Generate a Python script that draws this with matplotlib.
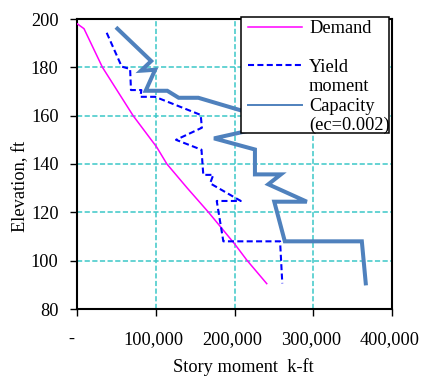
import matplotlib
matplotlib.use("Agg")
import matplotlib.pyplot as plt
import matplotlib.transforms as mtransforms
from matplotlib.lines import Line2D
from matplotlib.patches import Rectangle

# Story moment (k-ft) versus elevation (ft)
demand_moment = [0, 8500, 32000, 71000, 101000, 114000, 140000, 167000, 200000, 215500, 241000]
demand_elev = [198, 196, 180, 160, 147, 140, 130, 120, 107, 100.3, 90.5]

yield_moment = [37400, 56500, 67200, 68300, 81500, 80300, 99000, 157000, 158500, 125600,
                158000, 160300, 173000, 169000, 208000, 177400, 185800, 258000, 260800]
yield_elev = [194.3, 180.3, 179.3, 170.6, 170.6, 167.8, 167.8, 160.3, 155, 150,
              145.9, 135.5, 135.5, 132, 124.7, 124.7, 108, 108, 90.6]

capacity_moment = [51000, 94000, 81000, 99000, 87000, 114500, 129000, 154000, 262000, 174000,
                   226000, 226000, 259000, 243000, 292000, 250600, 264000, 362000, 367000]
capacity_elev = [196, 182.6, 178.6, 179, 170.3, 170.3, 167.4, 167.4, 157, 150.6,
                 146, 135.7, 135.7, 131.6, 124.4, 124.4, 108, 108, 90.6]

series_labels = ["Demand", "Yield\nmoment", "Capacity\n(ec=0.002)"]
x_ticks = [0, 100000, 200000, 300000, 400000]
x_tick_labels = ["-", "100,000", "200,000", "300,000", "400,000"]
y_ticks = [80, 100, 120, 140, 160, 180, 200]

plt.rcParams["font.family"] = ["Liberation Serif", "DejaVu Serif"]
FS = 13.2

W, H = 425, 376
fig = plt.figure(figsize=(W / 100, H / 100), dpi=100)
ax = fig.add_axes([77.3 / W, 1 - 309 / H, (391.7 - 77.3) / W, (309 - 19) / H])

grid_kw = dict(color="#3cc8c8", lw=1.1, linestyle=(0, (3.4, 1.6)), zorder=1)
for xv in x_ticks[1:-1]:
    ax.axvline(xv, **grid_kw)
for yv in y_ticks[1:-1]:
    ax.axhline(yv, **grid_kw)

colors = ["#ff00ff", "#0000ff", "#4f81bd"]
styles = [dict(lw=1.1, linestyle="-"),
          dict(lw=1.5, linestyle=(0, (2.9, 1.6))),
          dict(lw=2.9, linestyle="-", solid_joinstyle="miter")]

ax.plot(demand_moment, demand_elev, color=colors[0], zorder=3, **styles[0])
ax.plot(yield_moment, yield_elev, color=colors[1], zorder=3, **styles[1])
ax.plot(capacity_moment, capacity_elev, color=colors[2], zorder=3, **styles[2])

ax.set_xlim(0, 400000)
ax.set_ylim(80, 200)
ax.set_xticks(x_ticks)
ax.set_xticklabels(x_tick_labels, fontsize=FS)
ax.set_yticks(y_ticks)
ax.set_yticklabels([str(v) for v in y_ticks], fontsize=FS)
ax.tick_params(axis="x", direction="out", length=5, width=1, pad=11)
ax.tick_params(axis="y", direction="out", length=5, width=1, pad=8.5)

# accounting-style labels sit a little left of their ticks
for lbl, val in zip(ax.get_xticklabels(), x_ticks):
    dx = -6 if val == 0 else -2
    lbl.set_transform(lbl.get_transform() +
                      mtransforms.ScaledTranslation(dx / 100, 0, fig.dpi_scale_trans))

for side in ["left", "bottom", "top", "right"]:
    ax.spines[side].set_linewidth(1.5)
    ax.spines[side].set_color("black")

ax.set_xlabel("Story moment  k-ft", fontsize=FS)
ax.xaxis.set_label_coords((243 - 77.3) / 314.4, (309 - 367) / 290)
ax.xaxis.label.set_va("center")
ax.set_ylabel("Elevation, ft", fontsize=FS)
ax.yaxis.set_label_coords((20.7 - 77.3) / 314.4, (309 - 186) / 290)
ax.yaxis.label.set_va("center")
ax.yaxis.label.set_ha("center")


def fx(px):
    return px / W


def fy(py):
    return 1 - py / H


# legend box
fig.add_artist(Rectangle((fx(240.7), fy(132.7)), fx(389.3) - fx(240.7), fy(17.3) - fy(132.7),
                         transform=fig.transFigure, facecolor="white", edgecolor="black",
                         lw=1.1, zorder=5))
handle_y = [26.7, 65, 105]
text_y = [28.3, 67.7, 106.7]
handle_styles = [dict(lw=1.1, linestyle="-"),
                 dict(lw=1.5, linestyle=(0, (2.9, 1.6))),
                 dict(lw=1.4, linestyle="-")]
for i, label in enumerate(series_labels):
    fig.add_artist(Line2D([fx(248.3), fx(301.7)], [fy(handle_y[i]), fy(handle_y[i])],
                          transform=fig.transFigure, color=colors[i], zorder=6,
                          **handle_styles[i]))
    for j, line in enumerate(label.split("\n")):
        fig.text(fx(309), fy(text_y[i] + 19 * j), line, fontsize=FS, ha="left",
                 va="center", zorder=6)

fig.savefig("out.png", dpi=100)
